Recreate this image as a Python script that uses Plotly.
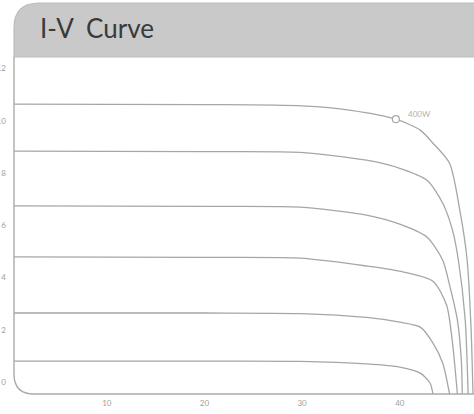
import plotly.graph_objects as go

# ---- data ----
title_text = "I-V\u00a0 Curve"
x_ticks = [10, 20, 30, 40]
y_ticks = [0, 2, 4, 6, 8, 10, 12]

v1 = [0, 20, 30, 35, 39.6, 42.1, 43.4, 45.1, 46.2, 46.9, 47.3, 47.5]
i1 = [11.1, 11.08, 11.03, 10.86, 10.52, 10.1, 9.6, 8.83, 6.92, 5.12, 2.5, 0]

v2 = [0, 20, 29.8, 36.6, 40, 42.8, 44.4, 45.4, 46.0, 46.7, 47.0]
i2 = [9.3, 9.28, 9.25, 8.95, 8.64, 8.18, 7.3, 6.27, 5.12, 2.83, 0]

v3 = [0, 20, 29.8, 36.6, 40, 42.8, 44.4, 45.1, 45.9, 46.3, 46.4]
i3 = [7.2, 7.18, 7.15, 6.85, 6.5, 6.0, 5.12, 4.17, 2.83, 1.3, 0]

v4 = [0, 20, 29.8, 36.6, 40, 43.4, 44.8, 45.4, 45.9]
i4 = [5.25, 5.23, 5.2, 4.9, 4.7, 4.32, 3.4, 1.95, 0]

v5 = [0, 20, 29.8, 36.6, 40, 42.1, 43.4, 44.4, 45.1]
i5 = [3.1, 3.1, 3.08, 2.93, 2.75, 2.56, 1.95, 1.18, 0]

v6 = [0, 20, 29.8, 36.6, 40, 42.1, 43.1, 43.4]
i6 = [1.26, 1.26, 1.25, 1.15, 1.03, 0.8, 0.42, 0]

mpp_v = [39.6]
mpp_i = [10.52]
mpp_label = "400W"

curves = [(v1, i1), (v2, i2), (v3, i3), (v4, i4), (v5, i5), (v6, i6)]

fig = go.Figure()
for v, i in curves:
    fig.add_trace(go.Scatter(x=v, y=i, mode="lines",
                             line=dict(color="#a6a6a6", width=1.3, shape="spline", smoothing=0.7),
                             hoverinfo="skip", showlegend=False))

fig.add_trace(go.Scatter(x=mpp_v, y=mpp_i, mode="markers",
                         marker=dict(size=7, color="white", line=dict(color="#a8a8a8", width=1.2)),
                         showlegend=False))

fig.add_annotation(x=mpp_v[0] + 1.0, y=mpp_i[0] + 0.2, text=mpp_label, showarrow=False,
                   xanchor="left", yanchor="middle",
                   font=dict(family="Lato", size=8, color="#b0b0b0"))

# panel geometry (paper coords)
W, H = 460.0, 337.0
top = (394 - 3) / H
rxt, ryt = 25 / W, 25 / H
rxb, ryb = 20 / W, 20 / H

header_path = (f"M 0,1 L 0,{top - ryt} Q 0,{top} {rxt},{top} "
               f"L 1.05,{top} L 1.05,1 Z")
fig.add_shape(type="path", xref="paper", yref="paper", path=header_path,
              fillcolor="#c9c9c9", line=dict(color="#bdbdbd", width=1.2), layer="above")

body_path = (f"M 0,1 L 0,{ryb} Q 0,0 {rxb},0 L 1.05,0")
fig.add_shape(type="path", xref="paper", yref="paper", path=body_path,
              line=dict(color="#ababab", width=1.4), layer="above")

fig.add_annotation(xref="paper", yref="paper", x=(38 - 14) / W, y=(394 - 28) / H,
                   text=title_text, showarrow=False, xanchor="left", yanchor="middle",
                   font=dict(family="Lato", size=26, color="#3a3a3a"))

fig.update_layout(
    width=474, height=414,
    margin=dict(l=14, r=0, t=57, b=20, autoexpand=False),
    paper_bgcolor="white", plot_bgcolor="white",
    font=dict(family="Lato", size=8, color="#a0a0a0"),
    xaxis=dict(range=[0.5, 47.6], tickvals=x_ticks, showgrid=False, zeroline=False,
               showline=False, ticks="", ticklabelstandoff=3, automargin=False,
               tickfont=dict(size=8, color="#a0a0a0")),
    yaxis=dict(range=[0, 12.9], tickvals=y_ticks, showgrid=False, zeroline=False,
               showline=False, ticks="", ticklabelstandoff=7, ticklabelshift=-12,
               automargin=False, tickfont=dict(size=8, color="#a0a0a0")),
)

fig.write_html("out.html", config={"displayModeBar": False},
               post_script="document.body.style.margin='0';document.body.style.overflow='hidden';")
